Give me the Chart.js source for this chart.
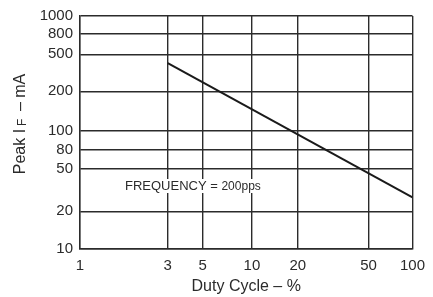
<!DOCTYPE html>
<html>
<head>
<meta charset="utf-8">
<script src="https://cdn.jsdelivr.net/npm/chart.js@4/dist/chart.umd.min.js"></script>
<style>
  html, body { margin: 0; padding: 0; background: #fff; }
  #wrap { width: 433px; height: 297px; }
</style>
</head>
<body>
<div id="wrap"><canvas id="chart" width="433" height="297"></canvas></div>
<script>
// Peak forward current vs duty cycle (log-log)
const dutyCycle = [3, 100];
const peakCurrent = [400, 27];
const xTicks = [1, 3, 5, 10, 20, 50, 100];
const yTicks = [10, 20, 50, 80, 100, 200, 500, 800, 1000];
const noteText = 'FREQUENCY = ';
const noteValue = '200pps';

const FONT = '"Liberation Sans", Arial, sans-serif';
const INK = '#2b2b2b';

// the printed grid is hand-drawn, not quite true log: each tick sits at its own fraction of the axis
const xGridFrac = [0, 0.264, 0.369, 0.517, 0.655, 0.868, 1];
const yGridFrac = [0, 0.162, 0.345, 0.426, 0.506, 0.677, 0.836, 0.922, 1];

class WarpedLogScale extends Chart.LogarithmicScale {
  toFrac(v) {
    const t = this.options.anchorTicks, f = this.options.anchorFrac;
    if (v <= t[0]) return f[0];
    for (let i = 1; i < t.length; i++) {
      if (v <= t[i]) {
        const k = (Math.log10(v) - Math.log10(t[i - 1])) / (Math.log10(t[i]) - Math.log10(t[i - 1]));
        return f[i - 1] + k * (f[i] - f[i - 1]);
      }
    }
    return f[f.length - 1];
  }
  getPixelForValue(v) {
    if (v === undefined || v === 0) v = this.min;
    if (v === null || isNaN(v)) return NaN;
    return this.getPixelForDecimal(this.toFrac(v));
  }
  getValueForPixel(px) {
    const d = this.getDecimalForPixel(px);
    const t = this.options.anchorTicks, f = this.options.anchorFrac;
    for (let i = 1; i < t.length; i++) {
      if (d <= f[i]) {
        const k = (d - f[i - 1]) / (f[i] - f[i - 1]);
        return Math.pow(10, Math.log10(t[i - 1]) + k * (Math.log10(t[i]) - Math.log10(t[i - 1])));
      }
    }
    return t[t.length - 1];
  }
}
WarpedLogScale.id = 'warpedLog';
WarpedLogScale.defaults = Chart.LogarithmicScale.defaults;
Chart.register(WarpedLogScale);

// y axis title with subscript F, plus the frequency note
const extras = {
  id: 'extras',
  afterDraw(chart) {
    const ctx = chart.ctx;
    const area = chart.chartArea;
    ctx.save();
    ctx.fillStyle = INK;
    ctx.textBaseline = 'middle';

    // rotated title
    ctx.save();
    ctx.translate(21, 124);
    ctx.rotate(-Math.PI / 2);
    const big = '16px ' + FONT, small = '12px ' + FONT;
    const a = 'Peak I', b = 'F', c = ' \u2013 mA';
    ctx.font = big; const wa = ctx.measureText(a).width, wc = ctx.measureText(c).width;
    ctx.font = small; const wb = ctx.measureText(b).width + 3;
    let x = -(wa + wb + wc + 3) / 2;
    ctx.textAlign = 'left';
    ctx.font = big; ctx.fillText(a, x, 0); x += wa + 3;
    ctx.font = small; ctx.fillText(b, x, 2); x += wb;
    ctx.font = big; ctx.fillText(c, x, 0);
    ctx.restore();

    // note with white box behind it
    ctx.font = '13px ' + FONT;
    const w1 = ctx.measureText(noteText).width;
    ctx.font = '12px ' + FONT;
    const w2 = ctx.measureText(noteValue).width;
    const nx = area.left + 45, ny = 186;
    ctx.fillStyle = '#fff';
    ctx.fillRect(nx - 2, ny - 7, w1 + w2 + 4, 14);
    ctx.fillStyle = INK;
    ctx.textAlign = 'left';
    ctx.font = '13px ' + FONT;
    ctx.fillText(noteText, nx, ny);
    ctx.font = '12px ' + FONT;
    ctx.fillText(noteValue, nx + w1, ny + 0.5);
    ctx.restore();
  }
};

new Chart(document.getElementById('chart'), {
  type: 'line',
  data: {
    datasets: [{
      data: dutyCycle.map((d, i) => ({ x: d, y: peakCurrent[i] })),
      borderColor: '#1a1a1a',
      borderWidth: 2,
      pointRadius: 0,
      tension: 0
    }]
  },
  options: {
    responsive: false,
    animation: false,
    events: [],
    layout: { padding: { top: 15, right: 20, left: 0, bottom: 0 } },
    plugins: { legend: { display: false }, tooltip: { enabled: false } },
    scales: {
      x: {
        type: 'warpedLog',
        min: 1, max: 100,
        anchorTicks: xTicks, anchorFrac: xGridFrac,
        afterBuildTicks: s => { s.ticks = xTicks.map(v => ({ value: v })); },
        afterFit: s => { s.height = 48; },
        grid: { color: INK, lineWidth: 1.4, drawTicks: false },
        border: { color: INK, width: 1.4 },
        ticks: {
          autoSkip: false, maxRotation: 0, padding: 8,
          color: INK, font: { family: FONT, size: 15 },
          callback: v => String(v)
        },
        title: {
          display: true, text: 'Duty Cycle \u2013 %',
          color: INK, font: { family: FONT, size: 16 },
          padding: { top: 0, bottom: 1 }
        }
      },
      y: {
        type: 'warpedLog',
        min: 10, max: 1000,
        anchorTicks: yTicks, anchorFrac: yGridFrac,
        afterBuildTicks: s => { s.ticks = yTicks.map(v => ({ value: v })); },
        afterFit: s => { s.width = 80; },
        grid: { color: INK, lineWidth: 1.4, drawTicks: false },
        border: { color: INK, width: 1.4 },
        ticks: {
          autoSkip: false, padding: 7,
          color: INK, font: { family: FONT, size: 15 },
          callback: v => String(v)
        }
      }
    }
  },
  plugins: [extras]
});
</script>
</body>
</html>
